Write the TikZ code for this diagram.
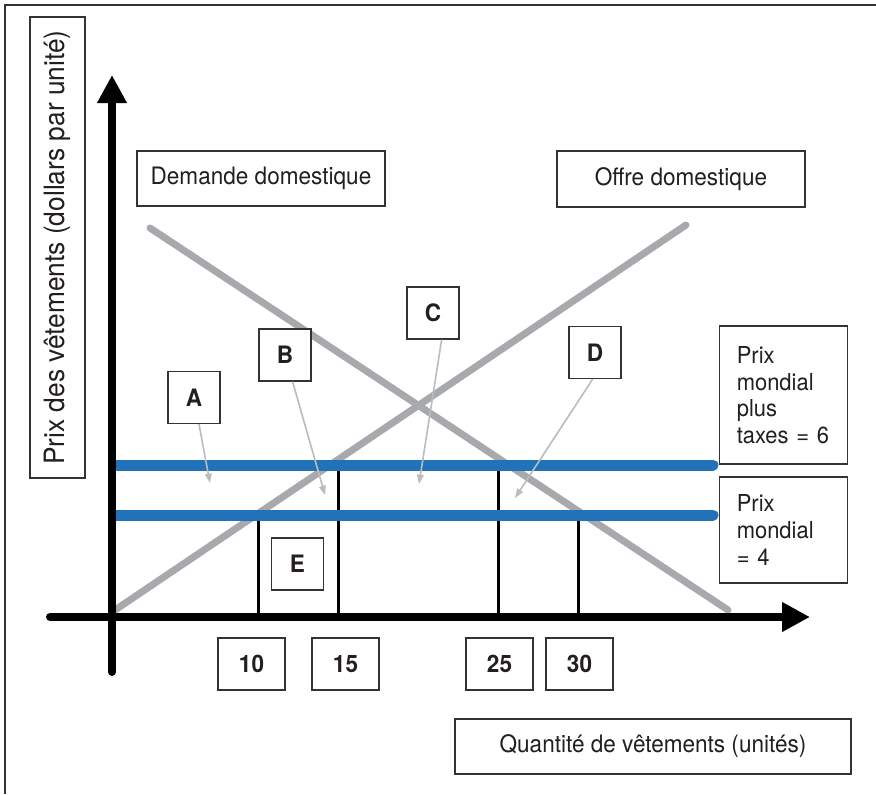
\documentclass[tikz,border=0pt]{standalone}
\usepackage{fontspec}
\setmainfont{TeX Gyre Heros}[FakeStretch=0.94]
\usetikzlibrary{arrows.meta}
\definecolor{bluel}{HTML}{2272BA}
\definecolor{grayl}{HTML}{A7A9AC}
\definecolor{arrc}{HTML}{B8BDC2}
\definecolor{txt}{HTML}{231F20}
\definecolor{boxc}{HTML}{333333}
\tikzset{
  frameline/.style={draw=boxc, line width=1pt},
  box/.style={draw=boxc, line width=0.9pt, fill=white, inner sep=0pt, text=txt},
  plain/.style={box, font=\fontsize{18}{21}\selectfont},
  lbl/.style={box, minimum width=39pt, minimum height=39pt, font=\fontsize{18}{20}\selectfont\bfseries},
  num/.style={box, minimum width=50.25pt, minimum height=39pt, font=\fontsize{18}{20}\selectfont\bfseries},
  side/.style={box, font=\fontsize{17.5}{20}\selectfont, align=left, text width=70pt, inner xsep=12.75pt},
  axis/.style={line width=6pt, line cap=round, -{Triangle[length=21pt,width=21pt]}},
  curve/.style={draw=grayl, line width=5.25pt, line cap=round},
  price/.style={draw=bluel, line width=8.25pt, line cap=round},
  qline/.style={draw=black, line width=2.25pt},
  pointer/.style={draw=arrc, line width=1.2pt, -{Triangle[length=7pt,width=5pt]}}
}
\begin{document}
\begin{tikzpicture}[x=0.75pt,y=-0.75pt]
\useasboundingbox (0,0) rectangle (876,794);
\fill[white] (0,0) rectangle (876,794);
\draw[frameline] (5,794) -- (5,5) -- (876,5);

% curves
\coordinate (dS) at (150,228); \coordinate (dE) at (728,610);
\coordinate (sS) at (115,610); \coordinate (sE) at (686,225);
\draw[curve] (dS) -- (dE);
\draw[curve] (sS) -- (sE);

% quantity lines
\coordinate (q10t) at (258,515); \coordinate (q10b) at (258,617);
\coordinate (q15t) at (338,465); \coordinate (q15b) at (338,617);
\coordinate (q25t) at (498,465); \coordinate (q25b) at (498,617);
\coordinate (q30t) at (578,515); \coordinate (q30b) at (578,617);
\draw[qline] (q10t) -- (q10b);
\draw[qline] (q15t) -- (q15b);
\draw[qline] (q25t) -- (q25b);
\draw[qline] (q30t) -- (q30b);

% price lines
\coordinate (p6s) at (115,465); \coordinate (p6e) at (713,465);
\coordinate (p4s) at (115,515); \coordinate (p4e) at (713,515);
\draw[price] (p6s) -- (p6e);
\draw[price] (p4s) -- (p4e);

% axes
\coordinate (yb) at (112,672); \coordinate (yt) at (112,75);
\coordinate (xl) at (50,617); \coordinate (xr) at (810,617);
\draw[axis] (yb) -- (yt);
\draw[axis] (xl) -- (xr);

% text boxes
\node[box, rotate=90, minimum width=345.75pt, minimum height=41.25pt,
      font=\fontsize{21}{24}\selectfont] (ylab) at (57.5,247.5) {Prix des vêtements (dollars par unité)};
\node[plain, minimum width=186pt, minimum height=41.25pt] (dem) at (261,178.5) {Demande domestique};
\node[plain, minimum width=186pt, minimum height=42pt] (off) at (681,179) {Offre domestique};
\node[plain, minimum width=297pt, minimum height=41.25pt] (qty) at (653,746.5) {Quantité de vêtements (unités)};

\node[side, minimum height=103.5pt] (pt6) at (783.5,395) {Prix\\mondial\\plus\\taxes = 6};
\node[side, minimum height=79.5pt] (pt4) at (783.5,530) {Prix\\mondial\\= 4};

% area labels
\node[lbl] (A) at (194,397.5) {A};
\node[lbl] (B) at (285,355) {B};
\node[lbl] (C) at (433,313) {C};
\node[lbl] (D) at (595,352.5) {D};
\node[lbl] (E) at (297.5,564) {E};

% quantity labels
\node[num] (n10) at (251.5,664) {10};
\node[num] (n15) at (345.5,664) {15};
\node[num] (n25) at (499.5,664) {25};
\node[num] (n30) at (579.5,664) {30};

% pointers
\coordinate (tA) at (210,483);
\coordinate (tB) at (325,495);
\coordinate (tC) at (419,484);
\coordinate (tD) at (515,498);
\draw[pointer] (A) -- (tA);
\draw[pointer] (B) -- (tB);
\draw[pointer] (C.-72) -- (tC);
\draw[pointer] (D.-95) -- (tD);
\end{tikzpicture}
\end{document}
